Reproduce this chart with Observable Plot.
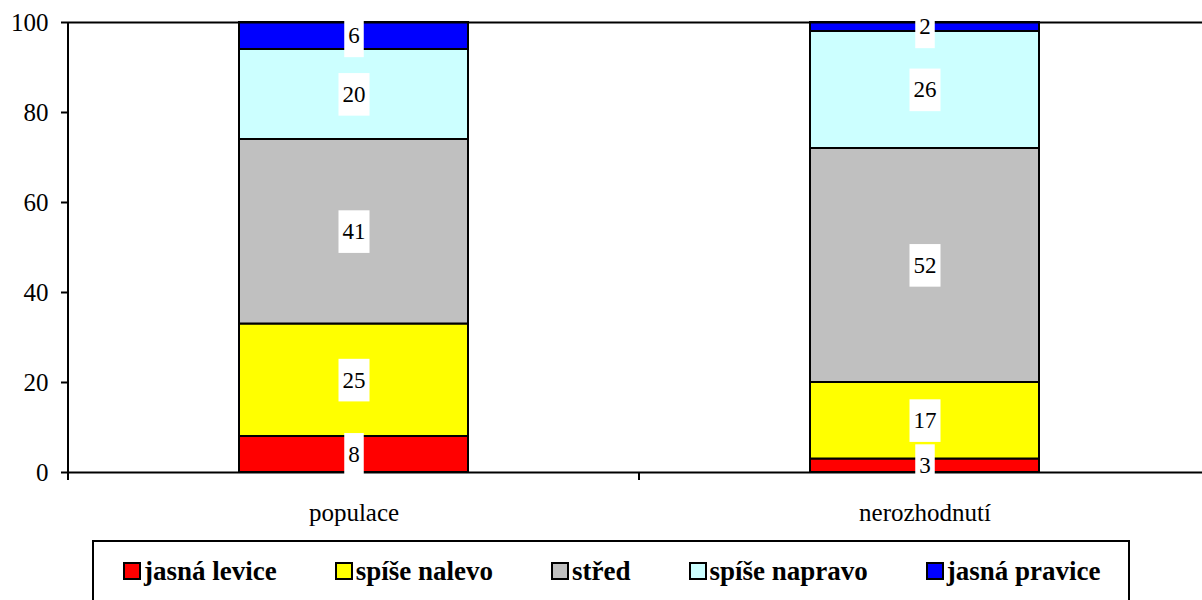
<!DOCTYPE html>
<html><head><meta charset="utf-8">
<script src="https://cdn.jsdelivr.net/npm/d3@7"></script>
<script src="https://cdn.jsdelivr.net/npm/@observablehq/plot@0.6"></script>
<style>
body{margin:0;background:#fff;width:1202px;height:600px;overflow:hidden;position:relative;font-family:'Liberation Serif';}
#chart svg{display:block;overflow:visible}
#legend{position:absolute;left:92px;top:540px;width:1038px;height:100px;box-sizing:border-box;border:2px solid #000;padding:14px 0 0 29px;display:flex;align-items:flex-start;gap:58px;font-family:'Liberation Serif';}
.item{display:flex;align-items:center;font-family:'Liberation Serif';font-weight:bold;font-size:27px;line-height:30px;white-space:nowrap;color:#000;}
.sw{width:18px;height:18px;box-sizing:border-box;border:2px solid #000;margin-right:3px;flex:none;}
</style></head>
<body><div id="chart"></div><div id="legend"></div>
<script>
const categories = ["populace", "nerozhodnutí"];
const series = ["jasná levice", "spíše nalevo", "střed", "spíše napravo", "jasná pravice"];
const colors = ["#FF0000", "#FFFF00", "#C0C0C0", "#CCFFFF", "#0000FF"];
const populace = [8, 25, 41, 20, 6];
const nerozhodnuti = [3, 17, 52, 26, 2];
const yTicks = [0, 20, 40, 60, 80, 100];

const valuesByCat = [populace, nerozhodnuti];
const data = categories.flatMap((c, ci) =>
  series.map((s, si) => ({cat: c, series: s, value: valuesByCat[ci][si]})));

const FONT = "'Liberation Serif'";

function axisLines(index, scales) {
  const x = scales.x, y = scales.y;
  const step = x(categories[1]) - x(categories[0]);
  const g = d3.create("svg:g").attr("stroke", "#000").attr("stroke-width", 2);
  const x0 = x(categories[0]);
  g.append("line").attr("x1", x0).attr("x2", x0).attr("y1", y(100)).attr("y2", y(0) + 8);
  const bounds = categories.map(c => x(c)).concat([x(categories[categories.length - 1]) + step]);
  for (const b of bounds) {
    g.append("line").attr("x1", b).attr("x2", b).attr("y1", y(0)).attr("y2", y(0) + 8);
  }
  return g.node();
}

const plot = Plot.plot({
  width: 1202,
  height: 538,
  marginTop: 22,
  marginBottom: 66,
  marginLeft: 68,
  marginRight: 0,
  style: "font-family:'Liberation Serif';font-size:25px;color:#000;background:#fff;overflow:visible",
  x: {type: "band", domain: categories, range: [68, 1210], padding: 0},
  y: {domain: [0, 100]},
  color: {domain: series, range: colors},
  marks: [
    Plot.barY(data, {x: "cat", y: "value", fill: "series", stroke: "#000", strokeWidth: 2, insetLeft: 171, insetRight: 171}),
    Plot.ruleY([0, 100], {stroke: "#000", strokeWidth: 2}),
    axisLines,
    Plot.axisY({ticks: yTicks, tickSize: 7, tickPadding: 13, tickFormat: d => String(d), label: null, strokeWidth: 2, fontSize: 25, fontFamily: FONT}),
    Plot.axisX({tickSize: 0, tickPadding: 31, label: null, fontSize: 25, fontFamily: FONT}),
    Plot.text(data, Plot.stackY({x: "cat", y: "value", text: d => String(d.value), fontSize: 23, fontFamily: FONT, fill: "#000", className: "vlabel"}))
  ]
});

document.getElementById("chart").append(plot);
plot.querySelectorAll("text").forEach(t => t.style.fontFamily = FONT);

// white boxes behind value labels
plot.querySelectorAll(".vlabel text").forEach(t => {
  const bb = t.getBBox();
  const cy = bb.y + bb.height / 2;
  const r = document.createElementNS("http://www.w3.org/2000/svg", "rect");
  r.setAttribute("x", bb.x - 4);
  r.setAttribute("width", bb.width + 8);
  r.setAttribute("y", cy - 21.3);
  r.setAttribute("height", 42.6);
  r.setAttribute("fill", "#fff");
  const tr = t.getAttribute("transform");
  if (tr) r.setAttribute("transform", tr);
  t.parentNode.insertBefore(r, t);
});

const legend = document.getElementById("legend");
series.forEach((s, i) => {
  const it = document.createElement("div");
  it.className = "item";
  it.style.fontFamily = FONT;
  const sw = document.createElement("span");
  sw.className = "sw";
  sw.style.background = colors[i];
  const tx = document.createElement("span");
  tx.textContent = s;
  it.append(sw, tx);
  legend.append(it);
});
</script>
</body></html>
